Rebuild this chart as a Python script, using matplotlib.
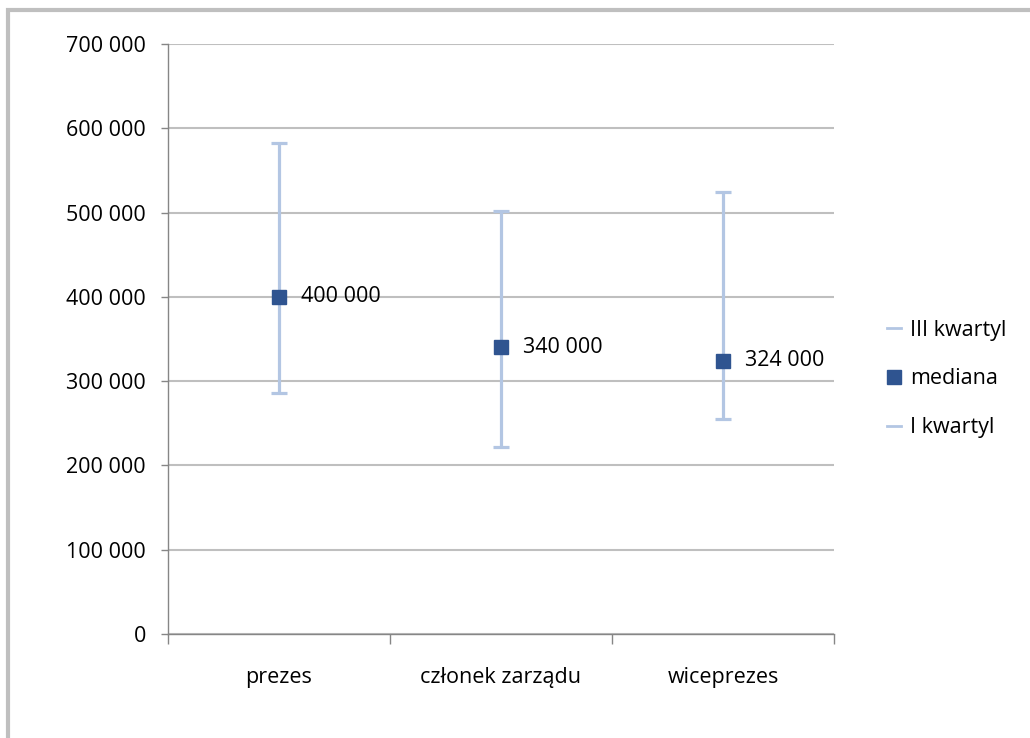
import matplotlib.pyplot as plt
from matplotlib.lines import Line2D
from matplotlib.patches import Rectangle
from matplotlib.ticker import FuncFormatter, FixedLocator

stanowiska = ['prezes', 'członek zarządu', 'wiceprezes']
kwartyl_3 = [582500, 502000, 524000]
mediana = [400000, 340000, 324000]
kwartyl_1 = [286000, 222000, 255000]

jasny = '#b3c6e3'
ciemny = '#2f5490'
siatka = '#bfbfbf'
os_kolor = '#868686'

plt.rcParams['font.family'] = ['Open Sans', 'DejaVu Sans']

fig = plt.figure(figsize=(10.3, 7.38), dpi=100)
ax = fig.add_axes([168/1030, 104/738, 666/1030, 590/738])

x = list(range(len(stanowiska)))
dol = [m - q1 for m, q1 in zip(mediana, kwartyl_1)]
gora = [q3 - m for m, q3 in zip(mediana, kwartyl_3)]

ax.errorbar(x, mediana, yerr=[dol, gora], fmt='none', ecolor=jasny,
            elinewidth=2.3, capsize=5.5, capthick=2.3, zorder=2)
ax.plot(x, mediana, 's', color=ciemny, markersize=9.5, zorder=3)

for xi, m in zip(x, mediana):
    ax.annotate(f'{m:,}'.replace(',', ' '), (xi, m), xytext=(16, 0),
                textcoords='offset points', va='center', ha='left',
                fontsize=15.5, color='black')

ax.set_xlim(-0.5, 2.5)
ax.set_ylim(0, 700000)
ax.set_yticks(range(0, 700001, 100000))
ax.yaxis.set_major_formatter(FuncFormatter(lambda v, p: f'{int(v):,}'.replace(',', ' ')))
ax.grid(axis='y', color=siatka, linewidth=1.5)
ax.set_axisbelow(True)

ax.xaxis.set_major_locator(FixedLocator([-0.5, 0.5, 1.5, 2.5]))
ax.xaxis.set_major_formatter(FuncFormatter(lambda v, p: ''))
ax.xaxis.set_minor_locator(FixedLocator(x))
ax.set_xticklabels(stanowiska, minor=True)
ax.tick_params(axis='x', which='major', length=7, color=os_kolor, width=1)
ax.tick_params(axis='x', which='minor', length=0, pad=24, labelsize=15.5)
ax.tick_params(axis='y', length=5, color=os_kolor, width=1, labelsize=15.5, pad=11)

for s in ['top', 'right']:
    ax.spines[s].set_visible(False)
for s in ['left', 'bottom']:
    ax.spines[s].set_color(os_kolor)
    ax.spines[s].set_linewidth(1)

uchwyty = [Line2D([], [], color=jasny, linewidth=2),
           Line2D([], [], color=ciemny, marker='s', linestyle='none', markersize=9.5),
           Line2D([], [], color=jasny, linewidth=2)]
fig.legend(uchwyty, ['III kwartyl', 'mediana', 'I kwartyl'],
           loc='center left', bbox_to_anchor=(868/1030, 1 - 379/738),
           frameon=False, fontsize=15.5, handlelength=0.65, handletextpad=0.4,
           labelspacing=1.3)

fig.add_artist(Rectangle((8/1030, -0.1), 1.2, 1 - 10/738 + 0.1,
                         transform=fig.transFigure, fill=False,
                         edgecolor=siatka, linewidth=3))

fig.savefig('out.png', dpi=100)
